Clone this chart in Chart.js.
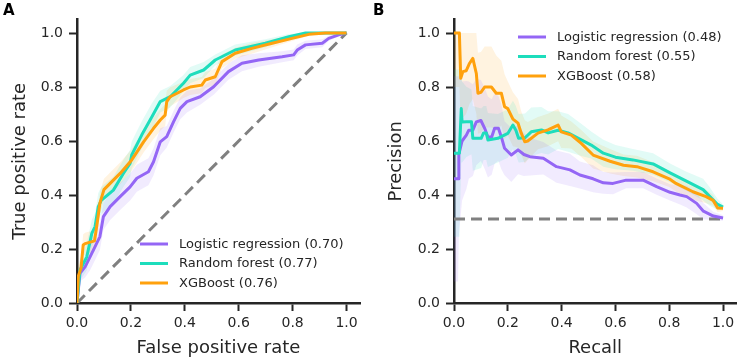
<!DOCTYPE html>
<html>
<head>
<meta charset="utf-8">
<script src="https://cdn.jsdelivr.net/npm/chart.js@4"></script>
<style>
  body { margin: 0; background: #fff; }
  #wrap { position: relative; width: 739px; height: 359px; }
  .panel { position: absolute; top: 0; height: 359px; }
  .tag { position: absolute; font: bold 15px "DejaVu Sans"; color: #000; }
</style>
</head>
<body>
<div id="wrap">
  <div class="panel" style="left:0;width:370px"><canvas id="roc" width="370" height="359"></canvas></div>
  <div class="panel" style="left:370px;width:369px"><canvas id="pr" width="369" height="359"></canvas></div>
  <div class="tag" style="left:3px;top:1px">A</div>
  <div class="tag" style="left:373px;top:1px">B</div>
</div>
<script>
// ---------------- data ----------------
const models = [ 'Logistic regression', 'Random forest', 'XGBoost' ];
const rocAuc = [ '0.70', '0.77', '0.76' ];
const prAuc  = [ '0.48', '0.55', '0.58' ];
const ticks = [ 0, 0.2, 0.4, 0.6, 0.8, 1.0 ];

// ROC curves (mean) and spread of the band
const lrFpr  = [ 0, 0.011, 0.03, 0.048, 0.067, 0.085, 0.098, 0.123, 0.16, 0.197, 0.222, 0.265, 0.284, 0.309, 0.333, 0.358, 0.383, 0.408, 0.457, 0.507, 0.562, 0.612, 0.674, 0.761, 0.804, 0.817, 0.848, 0.91, 0.934, 0.971, 1.0 ];
const lrTpr  = [ 0, 0.11, 0.134, 0.17, 0.209, 0.246, 0.32, 0.357, 0.394, 0.43, 0.462, 0.486, 0.523, 0.597, 0.616, 0.671, 0.721, 0.746, 0.764, 0.801, 0.857, 0.888, 0.9, 0.912, 0.919, 0.937, 0.956, 0.962, 0.98, 0.993, 1.0 ];
const lrRocSd = [ 0, 0.03, 0.04, 0.05, 0.05, 0.05, 0.05, 0.05, 0.05, 0.05, 0.05, 0.05, 0.05, 0.05, 0.04, 0.04, 0.04, 0.04, 0.03, 0.03, 0.03, 0.03, 0.025, 0.02, 0.02, 0.02, 0.015, 0.015, 0.01, 0.005, 0 ];

const rfFpr  = [ 0, 0.011, 0.036, 0.055, 0.067, 0.079, 0.09, 0.135, 0.172, 0.197, 0.203, 0.24, 0.278, 0.309, 0.346, 0.395, 0.42, 0.47, 0.513, 0.587, 0.699, 0.786, 0.848, 1.0 ];
const rfTpr  = [ 0, 0.122, 0.17, 0.258, 0.283, 0.357, 0.38, 0.418, 0.48, 0.517, 0.548, 0.622, 0.69, 0.746, 0.764, 0.814, 0.844, 0.863, 0.9, 0.937, 0.962, 0.986, 1.0, 1.0 ];
const rfRocSd = [ 0, 0.04, 0.05, 0.05, 0.05, 0.05, 0.05, 0.05, 0.05, 0.05, 0.05, 0.05, 0.05, 0.04, 0.04, 0.03, 0.03, 0.03, 0.02, 0.02, 0.015, 0.01, 0, 0 ];

const xgbFpr = [ 0, 0.005, 0.015, 0.023, 0.03, 0.065, 0.075, 0.085, 0.1, 0.123, 0.16, 0.203, 0.247, 0.284, 0.309, 0.327, 0.333, 0.346, 0.395, 0.42, 0.463, 0.476, 0.513, 0.538, 0.587, 0.649, 0.724, 0.798, 0.86, 0.922, 1.0 ];
const xgbTpr = [ 0, 0.1, 0.13, 0.215, 0.22, 0.23, 0.296, 0.37, 0.42, 0.443, 0.48, 0.53, 0.597, 0.647, 0.678, 0.696, 0.746, 0.764, 0.789, 0.80, 0.807, 0.826, 0.838, 0.894, 0.925, 0.943, 0.962, 0.98, 0.995, 1.0, 1.0 ];
const xgbRocSd = [ 0, 0.04, 0.04, 0.04, 0.04, 0.04, 0.04, 0.04, 0.04, 0.04, 0.04, 0.04, 0.04, 0.04, 0.04, 0.04, 0.04, 0.035, 0.03, 0.03, 0.03, 0.03, 0.03, 0.025, 0.02, 0.02, 0.015, 0.01, 0.005, 0, 0 ];

// precision-recall curves (mean) and spread of the band
const lrRec  = [ 0, 0.015, 0.018, 0.03, 0.046, 0.055, 0.07, 0.083, 0.1, 0.114, 0.126, 0.14, 0.151, 0.165, 0.176, 0.188, 0.213, 0.238, 0.26, 0.282, 0.332, 0.381, 0.431, 0.468, 0.517, 0.555, 0.591, 0.64, 0.703, 0.753, 0.803, 0.84, 0.865, 0.902, 0.927, 0.964, 1.0 ];
const lrPrec = [ 0.46, 0.46, 0.55, 0.60, 0.622, 0.64, 0.64, 0.671, 0.676, 0.647, 0.615, 0.615, 0.647, 0.647, 0.615, 0.573, 0.548, 0.567, 0.55, 0.542, 0.536, 0.505, 0.493, 0.474, 0.46, 0.445, 0.443, 0.455, 0.455, 0.431, 0.41, 0.4, 0.394, 0.369, 0.34, 0.322, 0.315 ];
const lrPrSd = [ 0.38, 0.38, 0.3, 0.22, 0.2, 0.18, 0.17, 0.16, 0.15, 0.15, 0.15, 0.14, 0.13, 0.12, 0.12, 0.1, 0.1, 0.09, 0.08, 0.07, 0.06, 0.06, 0.06, 0.05, 0.05, 0.04, 0.04, 0.03, 0.03, 0.03, 0.03, 0.035, 0.04, 0.04, 0.03, 0.015, 0.01 ];

const rfRec  = [ 0, 0.02, 0.027, 0.03, 0.046, 0.065, 0.07, 0.101, 0.11, 0.12, 0.126, 0.163, 0.2, 0.219, 0.23, 0.24, 0.264, 0.287, 0.325, 0.35, 0.387, 0.424, 0.473, 0.51, 0.555, 0.6, 0.665, 0.74, 0.803, 0.862, 0.926, 0.95, 0.98, 1.0 ];
const rfPrec = [ 0.555, 0.555, 0.72, 0.67, 0.671, 0.671, 0.61, 0.61, 0.63, 0.63, 0.604, 0.61, 0.628, 0.659, 0.64, 0.61, 0.612, 0.634, 0.641, 0.63, 0.64, 0.63, 0.604, 0.585, 0.555, 0.54, 0.53, 0.515, 0.482, 0.452, 0.42, 0.395, 0.365, 0.355 ];
const rfPrSd = [ 0.31, 0.31, 0.2, 0.15, 0.13, 0.12, 0.12, 0.11, 0.1, 0.1, 0.1, 0.09, 0.09, 0.09, 0.09, 0.09, 0.09, 0.09, 0.085, 0.08, 0.07, 0.07, 0.06, 0.05, 0.05, 0.045, 0.04, 0.04, 0.035, 0.035, 0.04, 0.035, 0.02, 0.01 ];

const xgbRec  = [ 0, 0.02, 0.025, 0.033, 0.045, 0.058, 0.07, 0.083, 0.089, 0.1, 0.114, 0.139, 0.157, 0.176, 0.188, 0.2, 0.219, 0.238, 0.25, 0.263, 0.274, 0.312, 0.349, 0.387, 0.399, 0.436, 0.473, 0.517, 0.58, 0.63, 0.68, 0.74, 0.8, 0.825, 0.888, 0.937, 0.963, 0.98, 1.0 ];
const xgbPrec = [ 1.0, 1.0, 0.832, 0.857, 0.86, 0.888, 0.906, 0.85, 0.777, 0.78, 0.80, 0.80, 0.777, 0.777, 0.727, 0.72, 0.681, 0.666, 0.629, 0.597, 0.6, 0.629, 0.641, 0.659, 0.634, 0.622, 0.591, 0.548, 0.525, 0.51, 0.505, 0.486, 0.46, 0.443, 0.412, 0.394, 0.38, 0.352, 0.351 ];
const xgbPrSd = [ 0.2, 0.2, 0.18, 0.17, 0.16, 0.15, 0.15, 0.15, 0.15, 0.15, 0.15, 0.15, 0.14, 0.12, 0.12, 0.1, 0.1, 0.09, 0.08, 0.08, 0.07, 0.06, 0.06, 0.06, 0.06, 0.05, 0.05, 0.05, 0.045, 0.04, 0.04, 0.035, 0.03, 0.03, 0.03, 0.025, 0.02, 0.015, 0.01 ];

// chance lines
const rocChanceX = [ 0, 1 ];
const rocChanceY = [ 0, 1 ];
const prChanceX = [ 0, 1 ];
const prChanceY = [ 0.311, 0.311 ];

// ---------------- styling ----------------
const ink = '#262626';
const font = '"DejaVu Sans"';
const colors = [ [ 148, 102, 245 ], [ 29, 221, 188 ], [ 255, 161, 13 ] ];
const rgb = ( c, a ) => `rgba(${c[0]},${c[1]},${c[2]},${a})`;
const pts = ( xs, ys ) => xs.map( ( x, i ) => ( { x, y: ys[ i ] } ) );

function modelSets( i, label, xs, ys, sd ) {
    const c = colors[ i ];
    const hi = ys.map( ( v, k ) => Math.min( 1, v + sd[ k ] ) );
    const lo = ys.map( ( v, k ) => Math.max( 0, v - sd[ k ] ) );
    return [
        { data: pts( xs, hi ), borderColor: 'transparent', borderWidth: 0, backgroundColor: rgb( c, 0.13 ), fill: '+1', pointRadius: 0, order: 20 + i },
        { data: pts( xs, lo ), borderColor: 'transparent', borderWidth: 0, fill: false, pointRadius: 0, order: 20 + i },
        { label, inLegend: true, data: pts( xs, ys ), borderColor: rgb( c, 1 ), borderWidth: 3, borderJoinStyle: 'round', fill: false, pointRadius: 0, order: 3 - i }
    ];
}

function chanceSet( xs, ys ) {
    return { data: pts( xs, ys ), borderColor: '#808080', borderWidth: 3, borderDash: [ 11, 6 ], fill: false, pointRadius: 0, order: 10 };
}

function axis( title, side, fitSize, titlePad ) {
    return {
        type: 'linear', min: 0, max: 1.05,
        border: { display: true, color: ink, width: 2.5 },
        grid: { display: true, drawOnChartArea: false, drawTicks: true, tickLength: 8, tickWidth: 2, tickColor: ink },
        afterBuildTicks: s => { s.ticks = ticks.map( v => ( { value: v } ) ); },
        ticks: { color: ink, font: { family: font, size: 14 }, padding: side === 'x' ? 4 : 6, maxRotation: 0, callback: v => v.toFixed( 1 ) },
        title: { display: true, text: title, color: ink, font: { family: font, size: 18 }, padding: titlePad },
        afterFit: s => { if ( side === 'x' ) s.height = fitSize; else s.width = fitSize; }
    };
}

// legend drawn at a fixed spot inside the plot
const innerLegend = {
    id: 'innerLegend',
    afterDatasetsDraw( chart, args, opts ) {
        const { ctx, chartArea } = chart;
        const items = chart.data.datasets.filter( d => d.inLegend );
        ctx.save();
        ctx.font = `13px ${font}`;
        ctx.textBaseline = 'middle';
        items.forEach( ( d, i ) => {
            const x = chartArea.left + opts.dx;
            const y = chartArea.top + opts.dy + i * 19.5;
            ctx.strokeStyle = d.borderColor;
            ctx.lineWidth = 3;
            ctx.beginPath(); ctx.moveTo( x, y ); ctx.lineTo( x + 28, y ); ctx.stroke();
            ctx.fillStyle = ink;
            ctx.fillText( d.label, x + 39, y + 0.5 );
        });
        ctx.restore();
    }
};

function makeChart( id, sets, xTitle, yTitle, yWidth, yTitlePad, padRight, legendPos ) {
    return new Chart( document.getElementById( id ), {
        type: 'line',
        data: { datasets: sets },
        options: {
            responsive: false, animation: false, events: [],
            layout: { padding: { top: 19.5, right: padRight, left: 0, bottom: 0 } },
            scales: {
                x: axis( xTitle, 'x', 56, { top: 0, bottom: 0 } ),
                y: axis( yTitle, 'y', yWidth, { top: yTitlePad, bottom: 0 } )
            },
            plugins: { legend: { display: false }, tooltip: { enabled: false }, innerLegend: legendPos }
        },
        plugins: [ innerLegend ]
    });
}

const rocSets = [
    ...modelSets( 0, `${models[0]} (${rocAuc[0]})`, lrFpr, lrTpr, lrRocSd ),
    ...modelSets( 1, `${models[1]} (${rocAuc[1]})`, rfFpr, rfTpr, rfRocSd ),
    ...modelSets( 2, `${models[2]} (${rocAuc[2]})`, xgbFpr, xgbTpr, xgbRocSd ),
    chanceSet( rocChanceX, rocChanceY )
];
const prSets = [
    ...modelSets( 0, `${models[0]} (${prAuc[0]})`, lrRec, lrPrec, lrPrSd ),
    ...modelSets( 1, `${models[1]} (${prAuc[1]})`, rfRec, rfPrec, rfPrSd ),
    ...modelSets( 2, `${models[2]} (${prAuc[2]})`, xgbRec, xgbPrec, xgbPrSd ),
    chanceSet( prChanceX, prChanceY )
];

makeChart( 'roc', rocSets, 'False positive rate', 'True positive rate', 77, 10, 10, { dx: 63, dy: 224.5 } );
makeChart( 'pr', prSets, 'Recall', 'Precision', 84, 16, 2.5, { dx: 64, dy: 17.5 } );
</script>
</body>
</html>
